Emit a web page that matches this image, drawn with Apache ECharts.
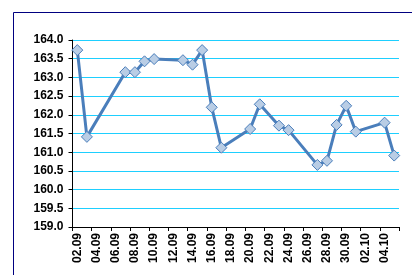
<!DOCTYPE html>
<html>
<head>
<meta charset="utf-8">
<script src="https://cdn.jsdelivr.net/npm/echarts@6/dist/echarts.min.js"></script>
<style>
html,body{margin:0;padding:0;background:#fff;}
#c{width:412px;height:275px;}
</style>
</head>
<body>
<div id="c"></div>
<script>
var categories = ['02.09','03.09','04.09','05.09','06.09','07.09','08.09','09.09','10.09','11.09',
  '12.09','13.09','14.09','15.09','16.09','17.09','18.09','19.09','20.09','21.09',
  '22.09','23.09','24.09','25.09','26.09','27.09','28.09','29.09','30.09','01.10',
  '02.10','03.10','04.10','05.10'];
var values = [163.73,161.41,null,null,null,163.14,163.14,163.43,163.49,null,
  null,163.46,163.34,163.73,162.20,161.12,null,null,161.62,162.28,
  null,161.71,161.59,null,null,160.66,160.77,161.73,162.24,161.55,
  null,null,161.79,160.91];
var yMin = 159.0, yMax = 164.0, yStep = 0.5;

var chart = echarts.init(document.getElementById('c'));
function font(extra){
  return Object.assign({fontFamily:'"Liberation Sans", Arial, sans-serif', fontWeight:'bold', fontSize:12, color:'#000'}, extra);
}
chart.setOption({
  animation:false,
  backgroundColor:'#fff',
  graphic:[{type:'rect', shape:{x:13.5,y:12.5,width:600,height:400}, style:{fill:'none', stroke:'#000080', lineWidth:1}, silent:true, z:-1}],
  grid:{left:72.5, top:40, right:13, bottom:48, containLabel:false},
  xAxis:{
    type:'category', data:categories, boundaryGap:true,
    axisLine:{lineStyle:{color:'#000',width:1}},
    axisTick:{show:true, interval:1, length:4, lineStyle:{color:'#000'}},
    axisLabel:font({interval:1, rotate:90, margin:6}),
    splitLine:{show:false}
  },
  yAxis:{
    type:'value', min:yMin, max:yMax, interval:yStep,
    axisLine:{show:true, lineStyle:{color:'#000',width:1}},
    axisTick:{show:true, length:4, lineStyle:{color:'#000'}},
    axisLabel:font({margin:9, formatter:function(v){return v.toFixed(1);}}),
    splitLine:{show:true, lineStyle:{color:'#1ECFFF', width:1.2}}
  },
  series:[{
    type:'line', data:values, connectNulls:true,
    showSymbol:true, showAllSymbol:true,
    symbol:'diamond', symbolSize:11,
    lineStyle:{color:'#4A7EBB', width:3},
    itemStyle:{color:'#B9CDE5', borderColor:'#4A7EBB', borderWidth:1},
    z:3
  }]
});
</script>
</body>
</html>
